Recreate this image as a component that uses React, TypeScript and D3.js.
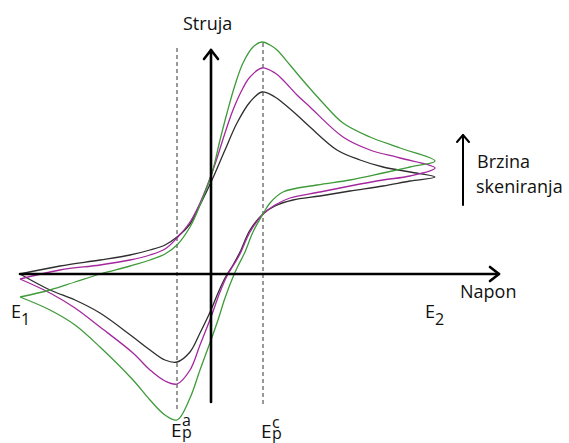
import React from "react";
import * as d3 from "d3";

// Cyclic voltammograms at three scan rates; E in mV-like units, I in µA-like units.
// Each loop starts at E1, sweeps forward to E2 and returns to E1.
type Pt = [number, number];

const slowScan: Pt[] = [
  [-191, 0], [-151, 8], [-111, 14], [-81, 19], [-61, 24], [-46, 29], [-34, 37],
  [-21, 50], [-11, 69], [1, 94], [14, 124], [26, 151], [39, 172], [51, 182],
  [64, 177], [72, 171], [86, 159], [99, 147], [126, 124], [149, 114], [172, 107],
  [199, 102], [224, 97],
  [199, 93], [172, 88], [139, 83], [109, 78], [82, 74], [64, 68], [52, 60],
  [39, 44], [29, 22], [22, 9], [14, -4], [7, -19], [0, -36], [-11, -59],
  [-21, -78], [-34, -88], [-46, -86], [-61, -76], [-78, -63], [-111, -39],
  [-136, -26], [-161, -16], [-191, 0],
];

const midScan: Pt[] = [
  [-191, -5], [-151, 4], [-111, 9], [-81, 14], [-61, 19], [-46, 25], [-34, 36],
  [-21, 52], [-11, 71], [2, 104], [14, 141], [22, 164], [32, 186], [39, 197],
  [51, 206], [64, 201], [72, 194], [86, 179], [99, 167], [132, 137], [159, 124],
  [189, 116], [224, 106],
  [199, 98], [172, 94], [139, 88], [109, 82], [79, 76], [64, 69], [52, 60],
  [39, 42], [29, 20], [22, 8], [17, 0], [9, -18], [0, -43], [-11, -71],
  [-21, -96], [-34, -110], [-46, -107], [-61, -96], [-78, -79], [-111, -53],
  [-136, -34], [-161, -19], [-191, -5],
];

const fastScan: Pt[] = [
  [-191, -23], [-161, -16], [-136, -8], [-111, 0], [-81, 8], [-61, 14], [-46, 20],
  [-34, 29], [-21, 47], [-11, 69], [1, 101], [9, 134], [16, 161], [24, 189],
  [32, 211], [42, 227], [51, 232], [59, 229], [66, 224], [79, 209], [89, 197],
  [112, 171], [132, 151], [159, 137], [189, 126], [224, 113],
  [199, 107], [172, 101], [139, 94], [106, 89], [72, 82], [59, 71], [52, 60],
  [42, 42], [34, 22], [27, 8], [22, -3], [14, -24], [7, -46], [0, -66],
  [-11, -96], [-21, -124], [-34, -146], [-46, -141], [-61, -126], [-78, -106],
  [-111, -73], [-136, -51], [-161, -36], [-191, -23],
];

const series = [
  { name: "slow", color: "#2e2e2e", data: slowScan },
  { name: "mid", color: "#a4279f", data: midScan },
  { name: "fast", color: "#3f9a3a", data: fastScan },
];

// Axis extents and marked potentials
const E_MIN = -191;
const E_MAX = 288;
const I_MIN = -128;
const I_MAX = 224;
const EPA = -34;
const EPC = 52;

export default function App() {
  const width = 569;
  const height = 443;
  const x = d3.scaleLinear().domain([E_MIN, E_MAX]).range([20, 499]);
  const y = d3.scaleLinear().domain([I_MIN, I_MAX]).range([402, 50]);
  const line = d3
    .line<Pt>()
    .x((d) => x(d[0]))
    .y((d) => y(d[1]))
    .curve(d3.curveCatmullRom.alpha(0.5));

  const x0 = x(0);
  const y0 = y(0);
  const font = "'Open Sans', 'Liberation Sans', sans-serif";
  const text = { fontFamily: font, fontSize: 18, fill: "#111" } as const;
  const small = { fontFamily: font, fontSize: 16, fill: "#111" } as const;

  return (
    <svg
      width={width}
      height={height}
      style={{ position: "absolute", left: 0, top: 0, background: "#fff" }}
    >
      {/* peak potential guides */}
      <line x1={x(EPA)} x2={x(EPA)} y1={48} y2={410} stroke="#333" strokeWidth={1} strokeDasharray="4,3" />
      <line x1={x(EPC)} x2={x(EPC)} y1={43} y2={406} stroke="#333" strokeWidth={1} strokeDasharray="4,3" />

      {series.map((s) => (
        <path key={s.name} d={line(s.data) ?? ""} fill="none" stroke={s.color} strokeWidth={1.3} />
      ))}

      {/* axes */}
      <g stroke="#000" strokeWidth={2.6} fill="none" strokeLinecap="round" strokeLinejoin="round">
        <line x1={x(E_MIN)} x2={x(E_MAX)} y1={y0} y2={y0} />
        <polyline points={`${x(E_MAX) - 9},${y0 - 7} ${x(E_MAX)},${y0} ${x(E_MAX) - 9},${y0 + 7}`} />
        <line x1={x0} x2={x0} y1={y(I_MIN)} y2={y(I_MAX)} />
        <polyline points={`${x0 - 7},${y(I_MAX) + 9} ${x0},${y(I_MAX)} ${x0 + 7},${y(I_MAX) + 9}`} />
      </g>

      {/* scan-rate arrow */}
      <g stroke="#000" strokeWidth={2} fill="none" strokeLinecap="round" strokeLinejoin="round">
        <line x1={463} x2={463} y1={205} y2={135} />
        <polyline points={`457,142 463,135 469,142`} />
      </g>

      <text x={183} y={30} {...text}>Struja</text>
      <text x={460} y={298} {...text}>Napon</text>
      <text x={477} y={168} {...text}>Brzina</text>
      <text x={476} y={193} {...text}>skeniranja</text>

      <text x={11} y={318} {...text}>
        E<tspan dy={7} fontSize={16}>1</tspan>
      </text>
      <text x={425} y={318} {...text}>
        E<tspan dy={7} fontSize={16}>2</tspan>
      </text>

      {/* anodic and cathodic peak potentials */}
      <text x={171} y={437} {...text} fontSize={19}>E</text>
      <text x={182} y={426} {...small}>a</text>
      <text x={182} y={438} {...small}>p</text>
      <text x={261} y={438} {...text} fontSize={19}>E</text>
      <text x={272} y={428} {...small}>c</text>
      <text x={272} y={439} {...small}>p</text>
    </svg>
  );
}
